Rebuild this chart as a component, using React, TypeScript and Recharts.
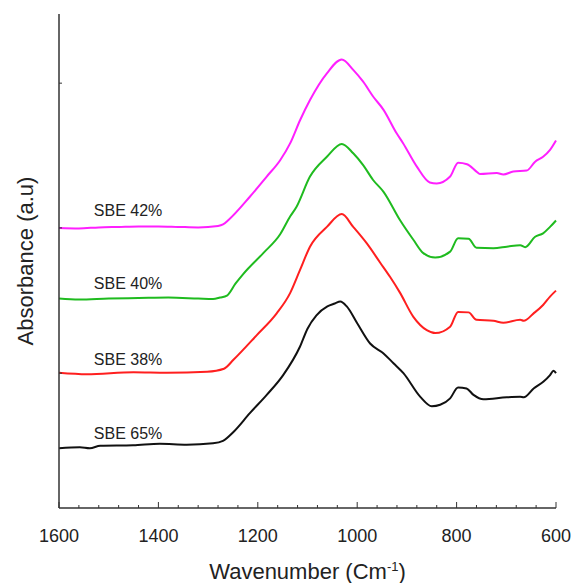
import {
  LineChart,
  Line,
  XAxis,
  YAxis,
  Label,
  ReferenceDot,
} from "recharts";

const FONT = '"Liberation Sans", Arial, sans-serif';

// [wavenumber, absorbance]
const SBE65: [number, number][] = [
  [1600, 12.1], [1558, 12.3], [1538, 12.1], [1517, 12.6], [1451, 12.7], [1397, 13.0],
  [1343, 12.8], [1290, 13.1], [1270, 13.6], [1249, 15.4], [1216, 19.2], [1182, 22.9],
  [1149, 26.9], [1115, 32.7], [1100, 36.3], [1082, 39.0], [1060, 40.8], [1045, 41.4],
  [1034, 41.8], [1021, 40.8], [1000, 37.4], [974, 33.3], [947, 31.3], [927, 29.3],
  [907, 27.3], [873, 22.5], [850, 20.6], [833, 20.9], [813, 22.2], [797, 24.4],
  [780, 24.2], [766, 22.9], [746, 22.0], [699, 22.4], [672, 22.5], [665, 22.4],
  [645, 24.2], [625, 25.6], [612, 26.9], [605, 27.8], [600, 27.3],
];

const SBE38: [number, number][] = [
  [1600, 27.4], [1544, 27.1], [1450, 27.5], [1383, 27.4], [1302, 27.6], [1268, 28.2],
  [1249, 30.0], [1202, 35.0], [1162, 39.4], [1135, 43.5], [1115, 48.2], [1095, 52.9],
  [1061, 56.9], [1031, 59.5], [1008, 56.9], [981, 53.6], [954, 49.7], [934, 46.8],
  [914, 43.6], [887, 38.7], [860, 36.0], [843, 35.4], [813, 36.7], [797, 39.7],
  [776, 39.6], [760, 38.1], [726, 37.9], [706, 37.5], [672, 38.1], [665, 37.9],
  [645, 39.4], [626, 41.1], [612, 42.8], [600, 44.0],
];

const SBE40: [number, number][] = [
  [1600, 42.4], [1560, 42.2], [1500, 42.4], [1440, 42.5], [1380, 42.6], [1320, 42.4],
  [1290, 42.3], [1276, 42.6], [1262, 43.0], [1245, 45.4], [1229, 47.4], [1189, 51.6],
  [1155, 55.4], [1135, 59.0], [1122, 61.0], [1095, 67.1], [1061, 71.1], [1031, 73.7],
  [1008, 71.8], [988, 69.4], [968, 66.4], [947, 64.0], [914, 58.3], [887, 54.3],
  [867, 51.6], [843, 50.7], [813, 51.9], [797, 54.6], [776, 54.5], [760, 52.7],
  [726, 52.6], [699, 52.9], [672, 53.2], [662, 52.8], [642, 54.9], [626, 55.6],
  [612, 56.9], [600, 58.2],
];

const SBE42: [number, number][] = [
  [1600, 56.7], [1560, 56.6], [1520, 56.8], [1480, 56.9], [1440, 57.0], [1400, 57.0],
  [1360, 56.9], [1320, 56.8], [1280, 57.1], [1270, 57.4], [1259, 58.3], [1216, 63.0],
  [1182, 67.1], [1155, 70.4], [1135, 73.8], [1115, 78.5], [1095, 82.6], [1061, 88.0],
  [1031, 90.8], [1008, 88.7], [988, 86.3], [968, 83.3], [947, 80.6], [921, 75.9],
  [908, 73.9], [880, 69.1], [854, 65.9], [840, 65.7], [813, 67.1], [797, 69.9],
  [779, 69.6], [760, 68.1], [753, 67.6], [719, 67.8], [706, 67.5], [686, 68.1],
  [659, 68.3], [642, 70.1], [626, 71.1], [612, 72.5], [600, 74.4],
];

const X_TICKS = [
  1600, 1560, 1520, 1480, 1440, 1400, 1360, 1320, 1280, 1240, 1200, 1160, 1120,
  1080, 1040, 1000, 960, 920, 880, 840, 800, 760, 720, 680, 640, 600,
];
const X_MAJOR = [1600, 1400, 1200, 1000, 800, 600];
const Y_TICKS = [27.3, 56.7, 86.0];

const LABELS = [
  { text: "SBE 42%", w: 1461, a: 60.3 },
  { text: "SBE 40%", w: 1461, a: 45.5 },
  { text: "SBE 38%", w: 1461, a: 30.0 },
  { text: "SBE 65%", w: 1461, a: 15.2 },
];

const SERIES = [
  { name: "SBE 65%", data: SBE65, color: "#111111" },
  { name: "SBE 38%", data: SBE38, color: "#ff1f1f" },
  { name: "SBE 40%", data: SBE40, color: "#1fbb1f" },
  { name: "SBE 42%", data: SBE42, color: "#ff1fff" },
];

const toPts = (arr: [number, number][]) => arr.map(([w, a]) => ({ w, a }));

const XTick = (props: any) => {
  const { x, y, payload } = props;
  const major = X_MAJOR.includes(payload.value);
  return (
    <g>
      <line x1={x} x2={x} y1={y} y2={y - (major ? 6 : 3)} stroke="#333" strokeWidth={1} />
      {major && (
        <text x={x} y={y + 34} textAnchor="middle" fontSize={18} fill="#222" fontFamily={FONT}>
          {payload.value}
        </text>
      )}
    </g>
  );
};

const YTick = (props: any) => {
  const { x, y } = props;
  return <line x1={x} x2={x + 3} y1={y} y2={y} stroke="#333" strokeWidth={1} />;
};

export default function App() {
  return (
    <div style={{ position: "absolute", left: 0, top: 0, background: "#fff" }}>
      <LineChart width={574} height={583} margin={{ top: 14, right: 18, left: 0, bottom: 0 }}>
        <XAxis
          dataKey="w"
          type="number"
          domain={[600, 1600]}
          reversed
          ticks={X_TICKS}
          interval={0}
          height={75}
          tickSize={0}
          tickMargin={0}
          tick={<XTick />}
          axisLine={{ stroke: "#333", strokeWidth: 1.5 }}
          tickLine={false}
        >
          <Label
            content={(p: any) => {
              const vb = p.viewBox;
              return (
                <text
                  x={vb.x + vb.width / 2}
                  y={vb.y + 71}
                  textAnchor="middle"
                  fontSize={22}
                  fill="#222"
                  fontFamily={FONT}
                >
                  <tspan>Wavenumber (Cm</tspan>
                  <tspan dy={-8} fontSize={13}>-1</tspan>
                  <tspan dy={8}>)</tspan>
                </text>
              );
            }}
          />
        </XAxis>
        <XAxis
          xAxisId="top"
          orientation="top"
          type="number"
          domain={[600, 1600]}
          reversed
          height={0}
          tick={false}
          tickLine={false}
          axisLine={{ stroke: "#333", strokeWidth: 1.5 }}
        />
        <YAxis
          type="number"
          domain={[0, 100]}
          ticks={Y_TICKS}
          width={59}
          tickSize={0}
          tickMargin={0}
          tick={<YTick />}
          tickLine={false}
          axisLine={{ stroke: "#333", strokeWidth: 1.5 }}
        >
          <Label
            content={(p: any) => {
              const vb = p.viewBox;
              const cx = vb.x + 25;
              const cy = vb.y + vb.height / 2;
              return (
                <text
                  x={cx}
                  y={cy}
                  transform={`rotate(-90 ${cx} ${cy})`}
                  textAnchor="middle"
                  dominantBaseline="central"
                  fontSize={22}
                  fill="#222"
                  fontFamily={FONT}
                >
                  Absorbance (a.u)
                </text>
              );
            }}
          />
        </YAxis>
        <YAxis
          yAxisId="right"
          orientation="right"
          type="number"
          domain={[0, 100]}
          width={0}
          tick={false}
          tickLine={false}
          axisLine={{ stroke: "#333", strokeWidth: 1.5 }}
        />
        {SERIES.map((s) => (
          <Line
            key={s.name}
            data={toPts(s.data)}
            dataKey="a"
            type="monotone"
            stroke={s.color}
            strokeWidth={2}
            dot={false}
            isAnimationActive={false}
          />
        ))}
        {LABELS.map((l) => (
          <ReferenceDot
            key={l.text}
            x={l.w}
            y={l.a}
            r={1}
            fill="none"
            stroke="none"
            label={{ value: l.text, position: "center", fontSize: 16, fill: "#222", fontFamily: FONT }}
          />
        ))}
      </LineChart>
    </div>
  );
}
